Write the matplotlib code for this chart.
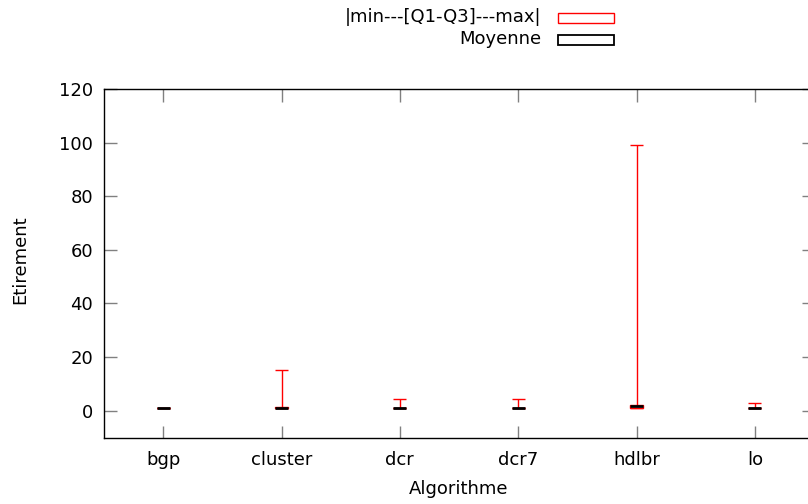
import matplotlib
matplotlib.use("Agg")
import matplotlib.pyplot as plt
from matplotlib.patches import Rectangle

# Données (étirement par algorithme)
algos = ["bgp", "cluster", "dcr", "dcr7", "hdlbr", "lo"]
mins = [1.0, 1.0, 1.0, 1.0, 1.0, 1.0]
q1 = [1.0, 1.0, 1.0, 1.0, 1.0, 1.0]
q3 = [1.1, 1.2, 1.1, 1.1, 2.3, 1.1]
maxs = [1.1, 15.0, 4.3, 4.3, 99.0, 2.9]
moyennes = [1.0, 1.0, 1.0, 1.0, 1.7, 1.0]

fig = plt.figure(figsize=(8.08, 5.04), dpi=100)
ax = fig.add_axes([104 / 808, (504 - 437.5) / 504, 710 / 808, 348.5 / 504])

w = 0.11
rouge = "#ff0000"
for i in range(len(algos)):
    # moustaches
    ax.vlines(i, mins[i], q1[i], color=rouge, lw=1)
    ax.vlines(i, q3[i], maxs[i], color=rouge, lw=1)
    ax.hlines([mins[i], maxs[i]], i - w / 2, i + w / 2, color=rouge, lw=1)
    # boite Q1-Q3
    ax.add_patch(Rectangle((i - w / 2, q1[i]), w, q3[i] - q1[i],
                           fill=False, edgecolor=rouge, lw=1))
    # moyenne
    ax.hlines(moyennes[i], i - w / 2, i + w / 2, color="black", lw=2, zorder=3)

ax.set_xlim(-0.5, 5.5)
ax.set_ylim(-10, 120)
ax.set_xticks(range(len(algos)))
ax.set_xticklabels(algos)
ax.set_yticks(range(0, 121, 20))
ax.tick_params(direction="in", length=9, width=1, color="#808080",
               top=True, right=True, labelsize=13)
ax.tick_params(axis="x", pad=10)
ax.tick_params(axis="y", pad=8)
for s in ax.spines.values():
    s.set_linewidth(1)
ax.set_xlabel("Algorithme", fontsize=13, labelpad=8)
ax.set_ylabel("Etirement", fontsize=13)
ax.yaxis.set_label_coords(-0.105, 0.51)

# Légende en haut
fig.text(541 / 808, 1 - 17 / 504, "|min---[Q1-Q3]---max|", ha="right", va="center", fontsize=13)
fig.text(541 / 808, 1 - 39 / 504, "Moyenne", ha="right", va="center", fontsize=13)
fig.patches.append(Rectangle((558 / 808, 1 - 23 / 504), 56 / 808, 10 / 504,
                             fill=False, edgecolor=rouge, lw=1, transform=fig.transFigure))
fig.patches.append(Rectangle((558 / 808, 1 - 45 / 504), 56 / 808, 10 / 504,
                             fill=False, edgecolor="black", lw=1.3, transform=fig.transFigure))

plt.savefig("out.png", dpi=100)
